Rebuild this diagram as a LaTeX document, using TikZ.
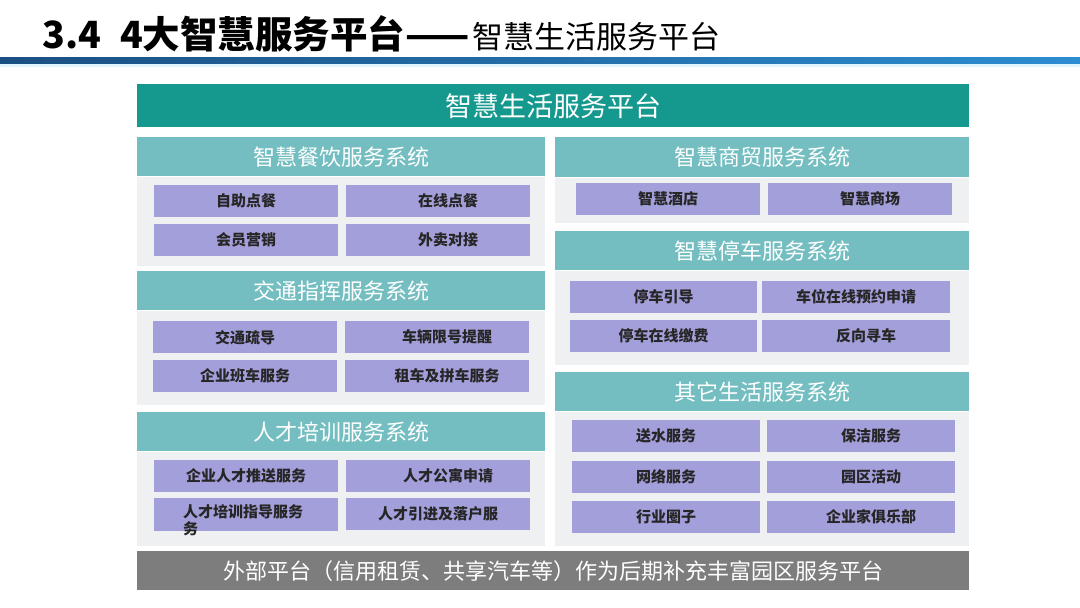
\documentclass[tikz,border=0pt]{standalone}
\usepackage{fontspec}
\setmainfont{Noto Sans CJK SC}
\usepackage{xcolor}
\usetikzlibrary{positioning}
\definecolor{platteal}{HTML}{15998E}
\definecolor{headteal}{HTML}{74BEC1}
\definecolor{panelgray}{HTML}{EFF0F2}
\definecolor{itempurple}{HTML}{A39FDB}
\definecolor{extgray}{HTML}{7D7D7D}
\definecolor{bardark}{HTML}{1B4F82}
\definecolor{barlight}{HTML}{2C8DD0}
\tikzset{
  platform/.style={fill=platteal, text=white, inner sep=0, anchor=north west,
    minimum width=832pt, minimum height=43pt,
    font=\fontsize{27}{30}\selectfont},
  syshead/.style={fill=headteal, text=white, inner sep=0, anchor=north west,
    minimum height=39pt, font=\fontsize{22}{24}\selectfont},
  panel/.style={fill=panelgray, inner sep=0},
  item/.style={fill=itempurple, text=black!85, inner sep=0, anchor=north west,
    minimum width=184pt, minimum height=32pt,
    font=\bfseries\fontsize{15}{17}\selectfont},
  itemr/.style={item, execute at begin node={\hspace*{20pt}}},
  itxt/.style={text=black!85, inner sep=0, align=left,
    font=\bfseries\fontsize{15}{17}\selectfont},
  extbar/.style={fill=extgray, text=white, inner sep=0, anchor=north west,
    minimum width=832pt, minimum height=39pt,
    font=\fontsize{22}{24}\selectfont}
}
\begin{document}
\begin{tikzpicture}[x=1pt,y=-1pt]
  \useasboundingbox[fill=white] (0,0) rectangle (1080,608);
  % title and bar
  \node[anchor=base west, inner sep=0, font=\fontsize{31}{33}\selectfont] (title) at (42,48)
    {{\bfseries\fontsize{37.5}{40}\selectfont 3.4\hspace{19pt}4大智慧服务平台——}\hspace{3pt}智慧生活服务平台};
  \shade[left color=bardark, right color=barlight] (0,57) rectangle (1080,64);
  \fill[cyan!12] (0,64) rectangle (1080,67);

  % platform banner
  \node[platform] (plat) at (137,84) {智慧生活服务平台};

  % left column
  \node[syshead, minimum width=408pt] (food) at (137,137) {智慧餐饮服务系统};
  \node[panel, below=0pt of food, minimum width=408pt, minimum height=89pt] (foodp) {};
  \node[item] (f1) at (154,185) {自助点餐};
  \node[itemr] (f2) at (346,185) {在线点餐};
  \node[item] (f3) at (154,224) {会员营销};
  \node[itemr] (f4) at (346,224) {外卖对接};

  \node[syshead, minimum width=408pt] (traf) at (137,271) {交通指挥服务系统};
  \node[panel, below=0pt of traf, minimum width=408pt, minimum height=94pt] (trafp) {};
  \node[item] (t1) at (153,321) {交通疏导};
  \node[itemr] (t2) at (345,321) {车辆限号提醒};
  \node[item] (t3) at (153,360) {企业班车服务};
  \node[itemr] (t4) at (345,360) {租车及拼车服务};

  \node[syshead, minimum width=408pt] (tal) at (137,412) {人才培训服务系统};
  \node[panel, below=0pt of tal, minimum width=408pt, minimum height=94pt] (talp) {};
  \node[item] (p1) at (154,460) {企业人才推送服务};
  \node[itemr] (p2) at (346,460) {人才公寓申请};
  \node[item, minimum height=33pt] (p3) at (154,498) {};
  \node[itxt, anchor=north west] (p3t) at ([xshift=29pt,yshift=-6pt]p3.north west)
    {人才培训指导服务\\务};
  \node[item] (p4) at (346,498) {人才引进及落户服};

  % right column
  \node[syshead, minimum width=414pt, minimum height=40pt] (trade) at (555,137) {智慧商贸服务系统};
  \node[panel, below=0pt of trade, minimum width=414pt, minimum height=45pt] (tradep) {};
  \node[item] (s1) at (576,183) {智慧酒店};
  \node[itemr] (s2) at (768,183) {智慧商场};

  \node[syshead, minimum width=414pt] (park) at (555,231) {智慧停车服务系统};
  \node[panel, below=0pt of park, minimum width=414pt, minimum height=94pt] (parkp) {};
  \node[item, minimum width=187pt] (k1) at (570,281) {停车引导};
  \node[item, minimum width=188pt] (k2) at (762,281) {车位在线预约申请};
  \node[item, minimum width=187pt] (k3) at (570,320) {停车在线缴费};
  \node[itemr, minimum width=188pt] (k4) at (762,320) {反向寻车};

  \node[syshead, minimum width=414pt] (other) at (555,372) {其它生活服务系统};
  \node[panel, below=0pt of other, minimum width=414pt, minimum height=134pt] (otherp) {};
  \node[item, minimum width=188pt] (o1) at (572,420) {送水服务};
  \node[itemr, minimum width=188pt] (o2) at (767,420) {保洁服务};
  \node[item, minimum width=188pt] (o3) at (572,461) {网络服务};
  \node[itemr, minimum width=188pt] (o4) at (767,461) {园区活动};
  \node[item, minimum width=188pt] (o5) at (572,501) {行业圈子};
  \node[itemr, minimum width=188pt] (o6) at (767,501) {企业家俱乐部};

  % external platforms
  \node[extbar] (ext) at (137,551) {外部平台（信用租赁、共享汽车等）作为后期补充丰富园区服务平台};
\end{tikzpicture}
\end{document}
